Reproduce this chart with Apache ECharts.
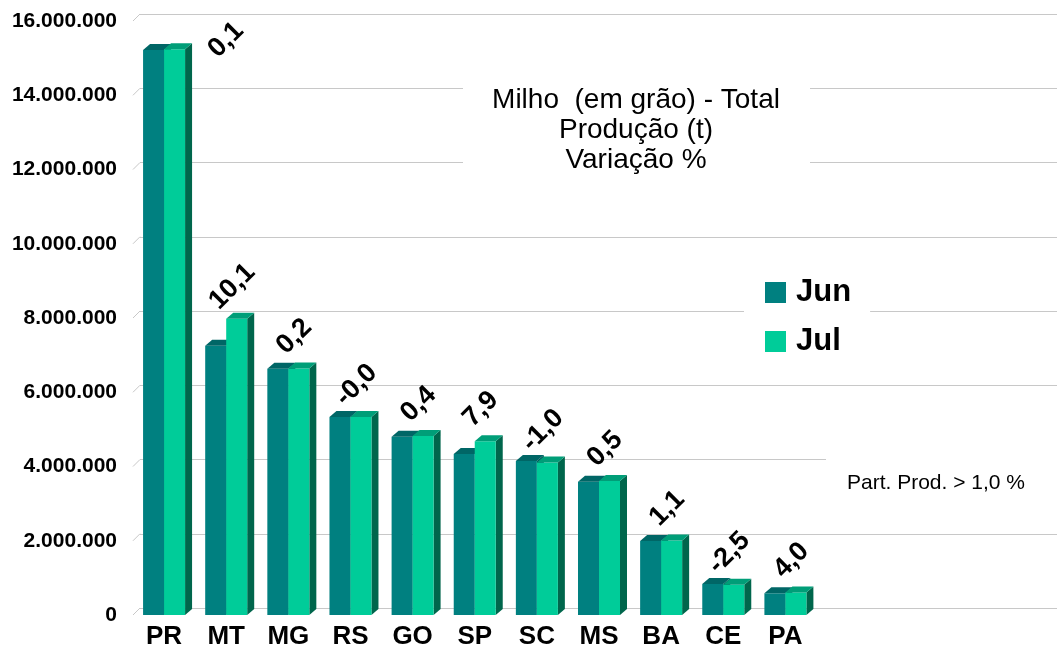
<!DOCTYPE html>
<html>
<head>
<meta charset="utf-8">
<script src="https://cdn.jsdelivr.net/npm/echarts@6/dist/echarts.min.js"></script>
<style>
html,body{margin:0;padding:0;background:#fff;}
#chart{width:1057px;height:647px;}
</style>
</head>
<body>
<div id="chart"></div>
<script>
// ---- data ----
const categories = ['PR','MT','MG','RS','GO','SP','SC','MS','BA','CE','PA'];
const emptySlots = ['', '', '', ''];
const junValues = [15220000, 7250000, 6630000, 5330000, 4800000, 4340000, 4150000, 3590000, 1990000, 835000, 585000];
const julValues = [15240000, 7980000, 6640000, 5330000, 4820000, 4680000, 4110000, 3610000, 2010000, 814000, 608000];
const variation = ['0,1','10,1','0,2','-0,0','0,4','7,9','-1,0','0,5','1,1','-2,5','4,0'];
const yTicks = [0, 2000000, 4000000, 6000000, 8000000, 10000000, 12000000, 14000000, 16000000];
const seriesNames = ['Jun', 'Jul'];
const titleLines = ['Milho  (em grão) - Total', 'Produção (t)', 'Variação %'];
const noteText = 'Part. Prod. > 1,0 %';

// ---- styles ----
const FONT = "'Liberation Sans', Arial, sans-serif";
const DX = 7, DY = -6;
const GRID_COLOR = '#c8c8c8';
const palette = {
  Jun: { front: '#008080', top: '#006666', side: '#005a5a' },
  Jul: { front: '#00cc99', top: '#009e78', side: '#00664c' }
};

const xData = categories.concat(emptySlots);
function fmt(v) { return String(v).replace(/\B(?=(\d{3})+(?!\d))/g, '.'); }

function barRenderer(slot, colors) {
  return function (params, api) {
    const i = api.value(0), v = api.value(1);
    const band = api.size([1, 0])[0];
    const w = band * 0.338;
    const top = api.coord([i, v]);
    const base = api.coord([i, 0]);
    const x0 = top[0] - w + slot * w;
    const yt = top[1], yb = base[1];
    return {
      type: 'group',
      children: [
        { type: 'polygon', shape: { points: [[x0 + w, yt], [x0 + w + DX, yt + DY], [x0 + w + DX, yb + DY], [x0 + w, yb]] },
          style: { fill: colors.side } },
        { type: 'rect', shape: { x: x0, y: yt, width: w, height: yb - yt }, style: { fill: colors.front } },
        { type: 'polygon', shape: { points: [[x0, yt], [x0 + w, yt], [x0 + w + DX, yt + DY], [x0 + DX, yt + DY]] },
          style: { fill: colors.top } }
      ]
    };
  };
}

function labelRenderer(params, api) {
  const i = api.value(0), v = api.value(1);
  const p = api.coord([i, v]);
  let cx = p[0] + 6, cy = p[1] - 32;
  if (cy < 40) { cx += 56; cy = 40; }
  return {
    type: 'text', x: cx, y: cy, rotation: Math.PI / 4,
    style: { text: variation[params.dataIndex], font: 'bold 27px ' + FONT, fill: '#000', align: 'center', verticalAlign: 'middle' }
  };
}

function tickDiagRenderer(params, api) {
  const v = api.value(1);
  const band = api.size([1, 0])[0];
  const p = api.coord([0, v]);
  const x = p[0] - band / 2;
  return { type: 'line', shape: { x1: x, y1: p[1], x2: x + DX, y2: p[1] - 7 }, style: { stroke: GRID_COLOR, lineWidth: 1 } };
}

const chart = echarts.init(document.getElementById('chart'), null, { renderer: 'canvas' });
const option = {
  animation: false,
  backgroundColor: '#fff',
  grid: [
    { left: 133, top: 21, height: 594, width: 932, outerBoundsMode: 'none', containLabel: false },
    { left: 140, top: 14, height: 594, width: 932, outerBoundsMode: 'none', containLabel: false }
  ],
  xAxis: [
    { type: 'category', gridIndex: 0, data: xData, axisLine: { show: false }, axisTick: { show: false },
      axisLabel: { margin: 9, color: '#000', fontFamily: FONT, fontWeight: 'bold', fontSize: 26, interval: 0 } },
    { type: 'category', gridIndex: 1, data: xData, show: false }
  ],
  yAxis: [
    { type: 'value', gridIndex: 0, min: 0, max: 16000000, interval: 2000000,
      axisLine: { show: false }, axisTick: { show: false }, splitLine: { show: false },
      axisLabel: { margin: 16, color: '#000', fontFamily: FONT, fontWeight: 'bold', fontSize: 21, formatter: fmt } },
    { type: 'value', gridIndex: 1, min: 0, max: 16000000, interval: 2000000,
      axisLine: { show: false }, axisTick: { show: false }, axisLabel: { show: false },
      splitLine: { show: true, lineStyle: { color: GRID_COLOR, width: 1 } } }
  ],
  legend: {
    data: seriesNames, orient: 'vertical', left: 744, top: 267,
    backgroundColor: '#fff', padding: [10, 19, 12, 21], itemGap: 18,
    itemWidth: 21, itemHeight: 21, icon: 'rect',
    textStyle: { fontFamily: FONT, fontWeight: 'bold', fontSize: 31, color: '#000', padding: [0, 0, 0, 5] }
  },
  graphic: [
    { type: 'rect', z: 100, shape: { x: 463, y: 76, width: 347, height: 104 }, style: { fill: '#fff' } },
    { type: 'text', z: 101, x: 636, y: 85,
      style: { text: titleLines.join('\n'), font: '28px ' + FONT, fill: '#000', align: 'center', verticalAlign: 'top', lineHeight: 30 } },
    { type: 'rect', z: 100, shape: { x: 826, y: 453, width: 240, height: 62 }, style: { fill: '#fff' } },
    { type: 'text', z: 101, x: 936, y: 483,
      style: { text: noteText, font: '21px ' + FONT, fill: '#000', align: 'center', verticalAlign: 'middle' } }
  ],
  series: [
    { type: 'line', xAxisIndex: 1, yAxisIndex: 1, data: [], silent: true },
    { type: 'custom', name: 'ticks', xAxisIndex: 0, yAxisIndex: 0, clip: false, silent: true,
      data: yTicks.map(v => [0, v]), encode: { x: 0, y: 1 }, renderItem: tickDiagRenderer },
    { type: 'custom', name: 'Jun', xAxisIndex: 0, yAxisIndex: 0, clip: false, z: 3,
      itemStyle: { color: palette.Jun.front },
      data: junValues.map((v, i) => [i, v]), encode: { x: 0, y: 1 }, renderItem: barRenderer(0, palette.Jun) },
    { type: 'custom', name: 'Jul', xAxisIndex: 0, yAxisIndex: 0, clip: false, z: 4,
      itemStyle: { color: palette.Jul.front },
      data: julValues.map((v, i) => [i, v]), encode: { x: 0, y: 1 }, renderItem: barRenderer(1, palette.Jul) },
    { type: 'custom', name: 'labels', xAxisIndex: 0, yAxisIndex: 0, clip: false, z: 5, silent: true,
      data: julValues.map((v, i) => [i, v]), encode: { x: 0, y: 1 }, renderItem: labelRenderer }
  ]
};
chart.setOption(option);
</script>
</body>
</html>
